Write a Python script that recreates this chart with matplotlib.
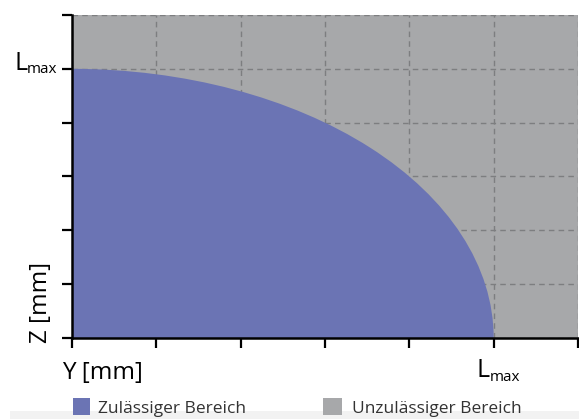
import matplotlib
matplotlib.use("Agg")
import matplotlib.pyplot as plt
from matplotlib.patches import Ellipse, Rectangle

# Daten
L_MAX = 5
x_ticks = [0, 1, 2, 3, 4, 5, 6]
y_ticks = [0, 1, 2, 3, 4, 5, 6]
legend_labels = ["Zulässiger Bereich", "Unzulässiger Bereich"]

COL_OK = "#6b74b4"
COL_NOK = "#a7a8aa"
COL_GRID = "#7d7e80"

plt.rcParams["font.family"] = ["Open Sans", "DejaVu Sans"]

W, H = 579, 419
fig = plt.figure(figsize=(W / 100, H / 100), dpi=100)
ax = fig.add_axes([72 / W, (H - 338) / H, 506 / W, 323 / H])

ax.set_facecolor(COL_NOK)
ax.set_xlim(x_ticks[0], x_ticks[-1])
ax.set_ylim(y_ticks[0], y_ticks[-1])

# zulässiger Bereich: Viertelellipse um den Ursprung
ax.add_patch(Ellipse((0, 0), 2 * L_MAX, 2 * L_MAX, facecolor=COL_OK,
                     edgecolor="none", zorder=1))

# Gitter
ax.set_axisbelow(True)
ax.grid(True, color=COL_GRID, linestyle=(0, (4, 3)), linewidth=1)

# Achsen
ax.spines["top"].set_visible(False)
ax.spines["right"].set_visible(False)
for s in ("left", "bottom"):
    ax.spines[s].set_linewidth(1.8)
    ax.spines[s].set_color("black")

ax.set_xticks(x_ticks)
ax.set_yticks(y_ticks)
ax.set_xticklabels([])
ax.set_yticklabels([])
ax.tick_params(direction="out", length=7, width=1.6)


def lmax_label(xy, off_l, off_sub, ha):
    # "L" groß, "max" tiefgestellt
    ax.annotate("L", xy, xytext=off_l, textcoords="offset pixels",
                fontsize=18, ha=ha, va="baseline", annotation_clip=False)
    ax.annotate("max", xy, xytext=off_sub, textcoords="offset pixels",
                fontsize=11, ha="left", va="baseline", annotation_clip=False)


lmax_label((0, L_MAX), (-44, -1), (-45, -4), "right")
lmax_label((L_MAX, 0), (-17, -39), (-4, -43), "left")

fig.text(62 / W, 1 - 379 / H, "Y [mm]", fontsize=17.5, ha="left", va="baseline")
fig.text(41 / W, 1 - 343 / H, "Z [mm]", fontsize=17.5, ha="center", va="bottom",
         rotation=90)

# Legende
fig.patches.append(Rectangle((10 / W, 0), (W - 10) / W, 8 / H,
                             transform=fig.transFigure, facecolor="#f2f2f2",
                             edgecolor="none", zorder=0))
fig.patches.append(Rectangle((73 / W, 1 - 415 / H), 17 / W, 17 / H,
                             transform=fig.transFigure, facecolor=COL_OK,
                             edgecolor="none"))
fig.text(98 / W, 1 - 413 / H, legend_labels[0], fontsize=12.5, ha="left",
         va="baseline", color="#333333")
fig.patches.append(Rectangle((323 / W, 1 - 415 / H), 19 / W, 17 / H,
                             transform=fig.transFigure, facecolor=COL_NOK,
                             edgecolor="none"))
fig.text(352 / W, 1 - 413 / H, legend_labels[1], fontsize=12.5, ha="left",
         va="baseline", color="#333333")

fig.savefig("out.png", dpi=100, facecolor="white")
